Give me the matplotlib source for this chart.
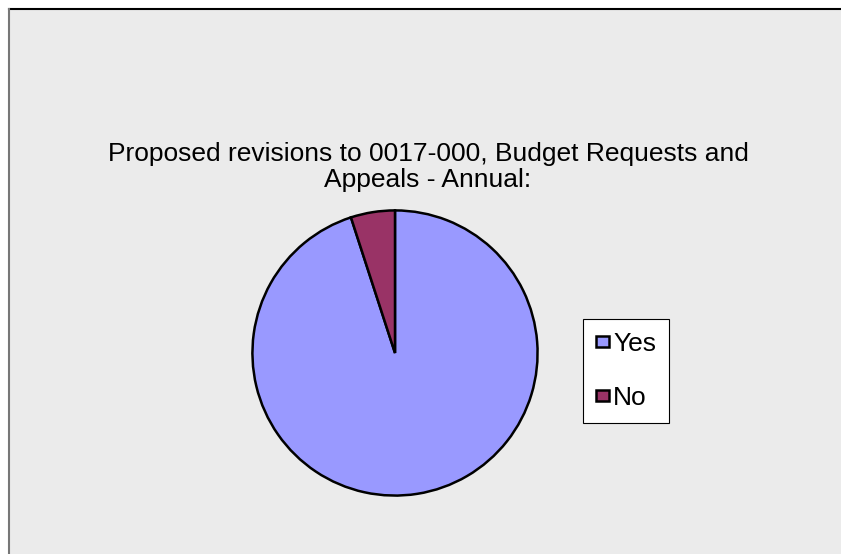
import matplotlib.pyplot as plt
from matplotlib.patches import Rectangle

labels = ['Yes', 'No']
values = [95, 5]
colors = ['#9999FF', '#993366']

W, H = 841, 554
fig = plt.figure(figsize=(W / 100, H / 100), dpi=100)
fig.patch.set_facecolor('white')
plt.rcParams['font.family'] = ['Liberation Sans', 'DejaVu Sans']

# gray chart area with its border
x0, ytop = 9 / W, 1 - 9 / H
fig.patches.append(Rectangle((x0, 0), 1 - x0 + 0.01, ytop, transform=fig.transFigure,
                             facecolor='#EBEBEB', edgecolor='none', zorder=-5))
fig.lines.append(plt.Line2D([x0, 1], [ytop, ytop], transform=fig.transFigure,
                            color='black', lw=1.5, zorder=-4))
fig.lines.append(plt.Line2D([x0, x0], [0, ytop], transform=fig.transFigure,
                            color='#777777', lw=1.5, zorder=-4))

ax = fig.add_axes([251 / W, 1 - 497 / H, 288 / W, 288 / H])
ax.set_facecolor('none')
wedges, _ = ax.pie(values, colors=colors, startangle=90, counterclock=False,
                   wedgeprops=dict(edgecolor='black', linewidth=1.8))
ax.set_xlim(-1.01, 1.01)
ax.set_ylim(-1.01, 1.01)

fig.text(428 / W, 1 - 167 / H,
         'Proposed revisions to 0017-000, Budget Requests and\nAppeals - Annual:',
         ha='center', va='center', fontsize=19, linespacing=1.12)

leg = fig.legend(wedges, labels, loc='center', bbox_to_anchor=(626 / W, 1 - 371 / H),
                 fontsize=19, frameon=True, fancybox=False, edgecolor='black',
                 framealpha=1, handlelength=0.5, handleheight=0.3, handletextpad=0.15,
                 labelspacing=1.15, borderpad=0.5)
leg.get_frame().set_linewidth(0.8)
leg.get_frame().set_facecolor('white')

fig.savefig('out.png', dpi=100)
